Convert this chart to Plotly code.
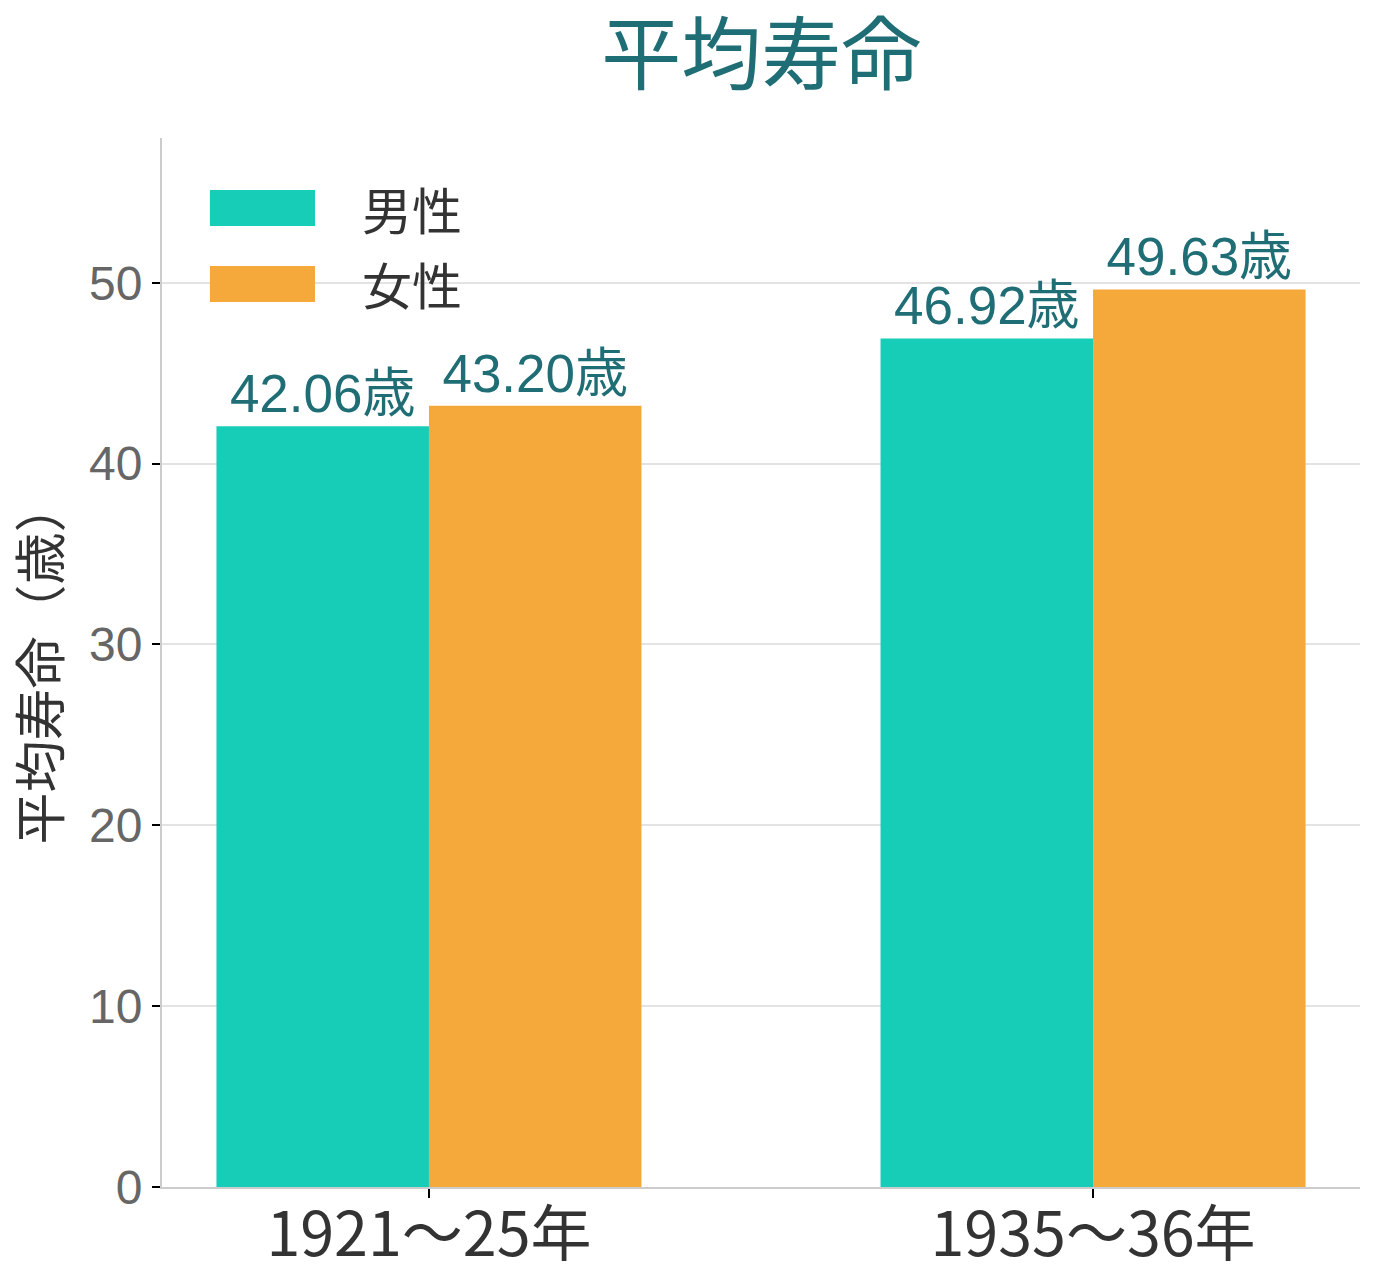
import plotly.graph_objects as go

categories = ["1921～25年", "1935～36年"]
male = [42.06, 46.92]
female = [43.20, 49.63]
series_names = ["男性", "女性"]
colors = ["#17cdb7", "#f5a93a"]
y_ticks = [0, 10, 20, 30, 40, 50]

CJK = "Noto Sans CJK JP"
LABEL_COLOR = "#1f6e75"

fig = go.Figure()
for name, vals, col in zip(series_names, [male, female], colors):
    fig.add_trace(go.Bar(
        x=categories, y=vals, name=name,
        marker=dict(color=col, line=dict(width=0)),
        texttemplate="%{y:.2f}歳", textposition="outside",
        textfont=dict(family="Liberation Sans, " + CJK, size=53, color=LABEL_COLOR),
        cliponaxis=False,
    ))

# custom legend (large swatches)
legend_rows = [(0.9504, 0.9161, 0.9333), (0.878, 0.8437, 0.8618)]
for (y1, y0, yt), name, col in zip(legend_rows, series_names, colors):
    fig.add_shape(type="rect", xref="paper", yref="paper",
                  x0=0.040, x1=0.1277, y0=y0, y1=y1,
                  fillcolor=col, line=dict(width=0), layer="above")
    fig.add_annotation(xref="paper", yref="paper", x=0.165, y=yt,
                       text=name, showarrow=False, xanchor="left", yanchor="middle",
                       font=dict(family=CJK, size=50, color="#333333"))

fig.update_layout(
    width=1380, height=1280,
    margin=dict(l=162, r=20, t=138, b=93),
    paper_bgcolor="white", plot_bgcolor="white",
    barmode="group", bargap=0.36, bargroupgap=0,
    showlegend=False,
    title=dict(text="平均寿命", x=0.5517, xanchor="center", y=0.957, yanchor="middle",
               yref="container",
               font=dict(family=CJK, size=80, color=LABEL_COLOR)),
    xaxis=dict(
        type="category", range=[-0.402, 1.402], automargin=False,
        showline=True, linecolor="#cccccc", linewidth=2,
        ticks="outside", ticklen=9, tickwidth=2, tickcolor="black",
        ticklabelstandoff=-15,
        tickfont=dict(family=CJK, size=61, color="#333333"),
        showgrid=False, zeroline=False,
    ),
    yaxis=dict(
        range=[0, 58], tickvals=y_ticks, automargin=False,
        showline=True, linecolor="#cccccc", linewidth=2,
        ticks="outside", ticklen=8, tickwidth=2, tickcolor="black",
        tickfont=dict(family="Liberation Sans Narrow, Liberation Sans, " + CJK, size=48, color="#666666"),
        showgrid=True, gridcolor="#e3e3e3", gridwidth=2,
        zeroline=False,
        title=dict(text="平均寿命（歳）", standoff=12,
                   font=dict(family=CJK, size=52, color="#333333")),
    ),
)

fig.write_html("out.html")
